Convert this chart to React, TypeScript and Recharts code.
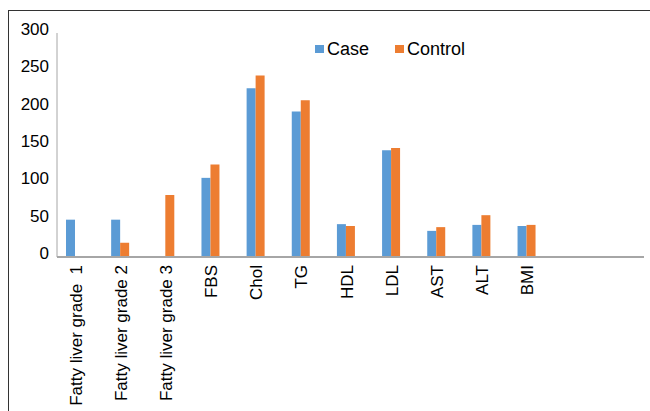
import React from 'react';
import { BarChart, Bar, XAxis, YAxis, Legend } from 'recharts';

const categories = [
  'Fatty liver grade  1',
  'Fatty liver grade 2',
  'Fatty liver grade 3',
  'FBS',
  'Chol',
  'TG',
  'HDL',
  'LDL',
  'AST',
  'ALT',
  'BMI',
  '',
  ' ',
];
const caseValues = [50, 50, null, 106, 226, 195, 44, 143, 35, 43, 41.5, null, null];
const controlValues = [null, 19, 83, 124, 243, 210, 41.5, 146, 40, 56, 43, null, null];
const blankValues = [null, null, null, null, null, null, null, null, null, null, null, null, null];
const yTicks = [0, 50, 100, 150, 200, 250, 300];
const seriesNames = { case: 'Case', control: 'Control', blank: 'Series3' };
const colors = { case: '#5b9bd5', control: '#ed7d31' };

const data = categories.map((c, i) => ({
  category: c,
  case: caseValues[i],
  control: controlValues[i],
  blank: blankValues[i],
}));

const FONT = '"Liberation Sans", Arial, sans-serif';

const YTick = (props: any) => {
  const { x, y, payload } = props;
  return (
    <text x={x} y={y} dy={2} textAnchor="end" fontFamily={FONT} fontSize={17} fill="#000">
      {payload.value}
    </text>
  );
};

const XTick = (props: any) => {
  const { x, y, payload } = props;
  return (
    <text
      x={x}
      y={y}
      dy={2}
      textAnchor="end"
      transform={`rotate(-90, ${x}, ${y})`}
      fontFamily={FONT}
      fontSize={17}
      fill="#000"
      style={{ whiteSpace: 'pre' }}
    >
      {payload.value}
    </text>
  );
};

const renderLegend = (props: any) => {
  const items = (props.payload || []).filter((p: any) => p.type !== 'none');
  return (
    <div style={{ display: 'flex', alignItems: 'center', fontFamily: FONT, fontSize: 18, color: '#000', lineHeight: '20px' }}>
      {items.map((it: any, i: number) => (
        <div key={i} style={{ display: 'flex', alignItems: 'center', marginRight: 26 }}>
          <span style={{ display: 'inline-block', width: 9, height: 8, background: it.color, marginRight: 3 }} />
          <span>{it.value}</span>
        </div>
      ))}
    </div>
  );
};

export default function App() {
  return (
    <div style={{ position: 'absolute', left: 0, top: 0, width: 650, height: 411, overflow: 'hidden', background: '#fff' }}>
      <div
        style={{
          position: 'absolute',
          left: 8,
          top: 10,
          width: 700,
          height: 500,
          borderTop: '1px solid #333',
          borderLeft: '1px solid #333',
        }}
      />
      <div style={{ position: 'absolute', left: 0, top: 0 }}>
        <BarChart
          width={650}
          height={411}
          data={data}
          margin={{ top: 33, right: 6, left: 0, bottom: 0 }}
          barGap={0}
          barSize={9}
        >
          <XAxis
            dataKey="category"
            interval={0}
            height={154}
            tickLine={false}
            axisLine={{ stroke: '#a6a6a6', strokeWidth: 2 }}
            tick={<XTick />}
          />
          <YAxis
            width={57}
            domain={[0, 300]}
            ticks={yTicks}
            tickLine={false}
            axisLine={{ stroke: '#a6a6a6', strokeWidth: 1 }}
            tick={<YTick />}
          />
          <Legend
            layout="horizontal"
            verticalAlign="middle"
            align="center"
            content={renderLegend}
            wrapperStyle={{ position: 'absolute', top: 39, left: 315, width: 220 }}
          />
          <Bar dataKey="case" name={seriesNames.case} fill={colors.case} isAnimationActive={false} />
          <Bar dataKey="control" name={seriesNames.control} fill={colors.control} isAnimationActive={false} />
          <Bar dataKey="blank" name={seriesNames.blank} fill="none" legendType="none" isAnimationActive={false} />
        </BarChart>
      </div>
    </div>
  );
}
